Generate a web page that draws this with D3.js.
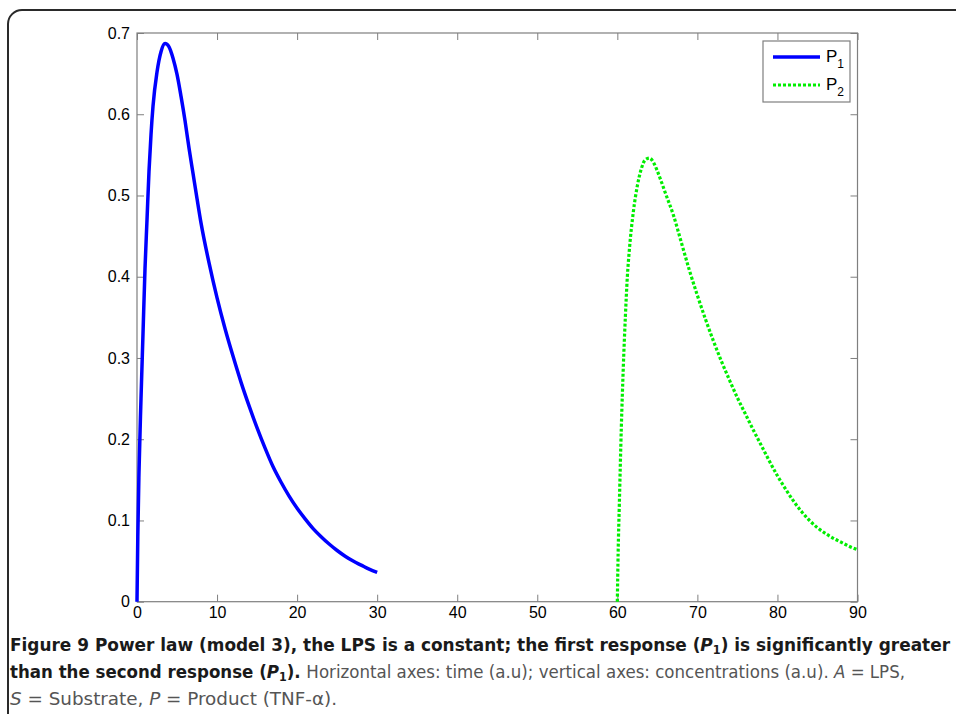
<!DOCTYPE html>
<html>
<head>
<meta charset="utf-8">
<script src="https://cdn.jsdelivr.net/npm/d3@7"></script>
<style>
  body { margin: 0; background: #fff; }
  svg { display: block; }
</style>
</head>
<body>
<div id="chart"></div>
<script>
// first response P1, t = 0..30
const p1Time = [0, 0.1, 0.25, 0.5, 0.75, 1, 1.25, 1.5, 1.75, 2, 2.5, 3, 3.5, 4, 4.5, 5, 5.5, 6, 6.5, 7, 7.5, 8, 9, 10,
  11, 12, 13, 14, 15, 16, 17, 18, 19, 20, 21, 22, 23, 24, 25, 26, 27, 28, 29, 30];
const p1Value = [0, 0.08, 0.16, 0.25, 0.33, 0.41, 0.47, 0.53, 0.575, 0.61, 0.652, 0.677, 0.687, 0.683, 0.669, 0.649, 0.622, 0.592, 0.558, 0.527, 0.496, 0.466, 0.417, 0.374,
  0.336, 0.302, 0.27, 0.241, 0.214, 0.189, 0.166, 0.147, 0.13, 0.115, 0.102, 0.09, 0.08, 0.071, 0.063, 0.056, 0.05, 0.045, 0.04, 0.036];

// second response P2, t = 60..90
const p2Time = [60, 60.1, 60.25, 60.5, 60.75, 61, 61.25, 61.5, 62, 62.5, 63, 63.5, 64, 64.5, 65, 65.5, 66, 67, 68, 69, 70,
  71, 72, 73, 74, 75, 76, 77, 78, 79, 80, 81, 82, 83, 84, 85, 86, 87, 88, 89, 90];
const p2Value = [0, 0.06, 0.12, 0.215, 0.29, 0.35, 0.4, 0.433, 0.48, 0.512, 0.533, 0.544, 0.546, 0.541, 0.53, 0.517, 0.503, 0.476, 0.442, 0.408, 0.377,
  0.348, 0.321, 0.296, 0.273, 0.251, 0.231, 0.211, 0.192, 0.173, 0.155, 0.139, 0.124, 0.111, 0.1, 0.091, 0.084, 0.078, 0.073, 0.068, 0.064];

const xTicks = [0, 10, 20, 30, 40, 50, 60, 70, 80, 90];
const yTicks = [0, 0.1, 0.2, 0.3, 0.4, 0.5, 0.6, 0.7];
const seriesNames = ["P", "P"];
const seriesSubs = ["1", "2"];

const width = 956;
const height = 714;
const plot = { left: 137, right: 857.5, top: 33, bottom: 601.7 };

const svg = d3.select("#chart")
  .append("svg")
  .attr("width", width)
  .attr("height", height);

// outer figure frame (runs off the right and bottom edges)
svg.append("rect")
  .attr("x", 8).attr("y", 10)
  .attr("width", 1000).attr("height", 800)
  .attr("rx", 14)
  .attr("fill", "none")
  .attr("stroke", "#2a2a2a")
  .attr("stroke-width", 2);

const x = d3.scaleLinear().domain([0, 90]).range([plot.left, plot.right]);
const y = d3.scaleLinear().domain([0, 0.7]).range([plot.bottom, plot.top]);

const axisColor = "#7f7f7f";
const tickFont = "'Liberation Sans', Arial, sans-serif";

function styleAxis(g) {
  g.select(".domain").remove();
  g.selectAll(".tick line").attr("stroke", axisColor);
  g.selectAll(".tick text")
    .attr("fill", "#000")
    .style("font-family", tickFont)
    .style("font-size", "16px");
}

svg.append("g")
  .attr("transform", `translate(0,${plot.bottom})`)
  .call(d3.axisBottom(x).tickValues(xTicks).tickSizeInner(-7).tickSizeOuter(0).tickPadding(5).tickFormat(d3.format("d")))
  .call(styleAxis);

svg.append("g")
  .attr("transform", `translate(0,${plot.top})`)
  .call(d3.axisTop(x).tickValues(xTicks).tickSizeInner(-7).tickSizeOuter(0).tickFormat(""))
  .call(styleAxis);

svg.append("g")
  .attr("transform", `translate(${plot.left},0)`)
  .call(d3.axisLeft(y).tickValues(yTicks).tickSizeInner(-7).tickSizeOuter(0).tickPadding(7)
    .tickFormat(d => d === 0 ? "0" : d3.format(".1f")(d)))
  .call(styleAxis);

svg.append("g")
  .attr("transform", `translate(${plot.right},0)`)
  .call(d3.axisRight(y).tickValues(yTicks).tickSizeInner(-7).tickSizeOuter(0).tickFormat(""))
  .call(styleAxis);

// axes box
svg.append("rect")
  .attr("x", plot.left).attr("y", plot.top)
  .attr("width", plot.right - plot.left).attr("height", plot.bottom - plot.top)
  .attr("fill", "none")
  .attr("stroke", axisColor)
  .attr("stroke-width", 1.2);

const line = d3.line()
  .x(d => x(d[0]))
  .y(d => y(d[1]))
  .curve(d3.curveMonotoneX);

const p1 = p1Time.map((t, i) => [t, p1Value[i]]);
const p2 = p2Time.map((t, i) => [t, p2Value[i]]);

svg.append("path")
  .datum(p1)
  .attr("d", line)
  .attr("fill", "none")
  .attr("stroke", "#0000ff")
  .attr("stroke-width", 3.5);

svg.append("path")
  .datum(p2)
  .attr("d", line)
  .attr("fill", "none")
  .attr("stroke", "#00ee00")
  .attr("stroke-width", 3.2)
  .attr("stroke-dasharray", "3,2");

// legend
const legend = svg.append("g").attr("transform", "translate(763,41)");
legend.append("rect")
  .attr("width", 87).attr("height", 61)
  .attr("fill", "#fff")
  .attr("stroke", axisColor)
  .attr("stroke-width", 1.2);

const legendStyles = [
  { color: "#0000ff", dash: null, w: 3.5 },
  { color: "#00ee00", dash: "3,2", w: 3.2 }
];

legendStyles.forEach((s, i) => {
  const ly = 16 + i * 28;
  legend.append("line")
    .attr("x1", 10).attr("x2", 57)
    .attr("y1", ly).attr("y2", ly)
    .attr("stroke", s.color)
    .attr("stroke-width", s.w)
    .attr("stroke-dasharray", s.dash);
  const t = legend.append("text")
    .attr("x", 63).attr("y", ly + 5)
    .style("font-family", tickFont)
    .style("font-size", "17px")
    .attr("fill", "#000");
  t.append("tspan").text(seriesNames[i]);
  t.append("tspan").attr("dy", 6).style("font-size", "12px").text(seriesSubs[i]);
});

// caption
const capFont = "'Liberation Sans Narrow', 'DejaVu Sans Condensed', 'Open Sans', sans-serif";
const cap = svg.append("g")
  .style("font-family", capFont)
  .style("font-size", "18px");

const l1 = cap.append("text")
  .attr("x", 10).attr("y", 651)
  .attr("textLength", 940).attr("lengthAdjust", "spacingAndGlyphs")
  .attr("fill", "#1a1a1a")
  .style("font-weight", "bold");
l1.append("tspan").text("Figure 9 Power law (model 3), the LPS is a constant; the first response (");
l1.append("tspan").style("font-style", "italic").text("P");
l1.append("tspan").attr("dy", 3).style("font-size", "12px").text("1");
l1.append("tspan").attr("dy", -3).text(") is significantly greater");

const l2 = cap.append("text")
  .attr("x", 10).attr("y", 678)
  .attr("textLength", 895).attr("lengthAdjust", "spacingAndGlyphs");
l2.append("tspan").attr("fill", "#1a1a1a").style("font-weight", "bold").text("than the second response (");
l2.append("tspan").attr("fill", "#1a1a1a").style("font-weight", "bold").style("font-style", "italic").text("P");
l2.append("tspan").attr("fill", "#1a1a1a").style("font-weight", "bold").attr("dy", 3).style("font-size", "12px").text("1");
l2.append("tspan").attr("fill", "#1a1a1a").style("font-weight", "bold").attr("dy", -3).text("). ");
l2.append("tspan").attr("fill", "#555").text("Horizontal axes: time (a.u); vertical axes: concentrations (a.u). ");
l2.append("tspan").attr("fill", "#555").style("font-style", "italic").text("A");
l2.append("tspan").attr("fill", "#555").text(" = LPS,");

const l3 = cap.append("text")
  .attr("x", 10).attr("y", 705)
  .attr("textLength", 327).attr("lengthAdjust", "spacingAndGlyphs")
  .attr("fill", "#555");
l3.append("tspan").style("font-style", "italic").text("S");
l3.append("tspan").text(" = Substrate, ");
l3.append("tspan").style("font-style", "italic").text("P");
l3.append("tspan").text(" = Product (TNF-α).");
</script>
</body>
</html>
